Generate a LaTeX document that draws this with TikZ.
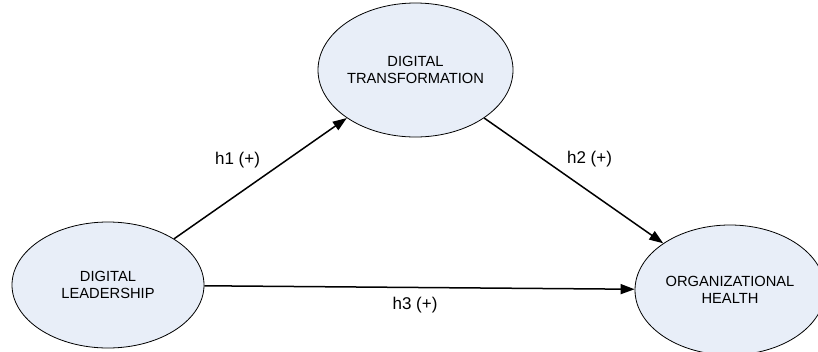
\documentclass[tikz,border=0pt]{standalone}
\usepackage{fontspec}
\setmainfont{Liberation Sans}
\usetikzlibrary{shapes.geometric,arrows.meta}
\definecolor{ellfill}{HTML}{E8EEF8}
\begin{document}
\begin{tikzpicture}[x=1pt,y=-1pt,
  construct/.style={ellipse,draw=black,line width=0.8pt,fill=ellfill,inner sep=0pt,
    align=center,font=\fontsize{14.7}{17}\selectfont},
  hpath/.style={-{Triangle[length=14pt,width=10pt]},line width=1.5pt},
  hlabel/.style={font=\fontsize{17}{20}\selectfont,inner sep=0pt}]
\useasboundingbox (0,0) rectangle (818,351);
\clip (0,0) rectangle (818,351);
\node[construct,minimum width=195pt,minimum height=134pt] (dt) at (415.5,70) {DIGITAL\\TRANSFORMATION};
\node[construct,minimum width=192pt,minimum height=126pt] (dl) at (108,285) {DIGITAL\\LEADERSHIP};
\node[construct,minimum width=190pt,minimum height=130pt] (oh) at (730,290) {ORGANIZATIONAL\\HEALTH};
\draw[hpath] (dl) -- (dt);
\draw[hpath] (dt) -- (oh);
\draw[hpath] (dl) -- (oh);
\node[hlabel] (l1) at (237.5,160) {h1 (+)};
\node[hlabel] (l2) at (589.5,159) {h2 (+)};
\node[hlabel] (l3) at (415,305) {h3 (+)};
\end{tikzpicture}
\end{document}
